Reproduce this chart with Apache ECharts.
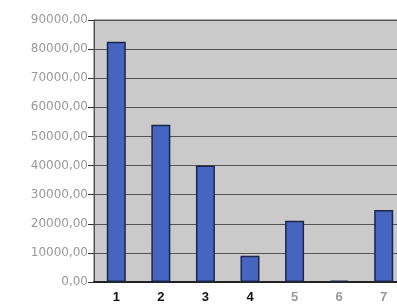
<!DOCTYPE html>
<html>
<head>
<meta charset="utf-8">
<script src="https://cdn.jsdelivr.net/npm/echarts@6/dist/echarts.min.js"></script>
<style>
	html, body { margin: 0; padding: 0; background: #fff; }
	#chart { width: 397px; height: 307px; }
</style>
</head>
<body>
<div id="chart"></div>
<script>
// categories and values
var categories = ['1', '2', '3', '4', '5', '6', '7']
var values = [82500, 54000, 40000, 9000, 21000, 500, 24700]
var labelColors = ['#111', '#111', '#111', '#111', '#999', '#999', '#999']

var chart = echarts.init(document.getElementById('chart'))
chart.setOption({
	animation: false,
	grid: {
		left: 94,
		right: -9, // plot runs past the right edge of the picture
		top: 20,
		bottom: 25,
		outerBoundsMode: 'none',
		show: true,
		backgroundColor: '#cacaca',
		borderColor: '#555',
		borderWidth: 1
	},
	xAxis: {
		type: 'category',
		data: categories,
		axisLine: { lineStyle: { color: '#222', width: 2 } },
		axisTick: { show: false },
		axisLabel: {
			margin: 9,
			fontFamily: 'Liberation Sans',
			fontSize: 13,
			fontWeight: 'bold',
			color: function (v, i) { return labelColors[i] }
		}
	},
	yAxis: {
		type: 'value',
		min: 0,
		max: 90000,
		interval: 10000,
		axisLine: { show: true, lineStyle: { color: '#555' } },
		axisTick: { show: true, inside: false, length: 6, lineStyle: { color: '#333' } },
		splitLine: { lineStyle: { color: '#555', width: 1 } },
		axisLabel: {
			margin: 6,
			fontFamily: 'DejaVu Sans',
			fontSize: 12,
			color: '#999',
			formatter: function (v) { return v.toFixed(2).replace('.', ',') }
		}
	},
	series: [{
		type: 'bar',
		data: values,
		barWidth: 19,
		itemStyle: {
			color: '#4565c0',
			borderColor: '#1c2748',
			borderWidth: 1.5
		}
	}]
})
</script>
</body>
</html>
